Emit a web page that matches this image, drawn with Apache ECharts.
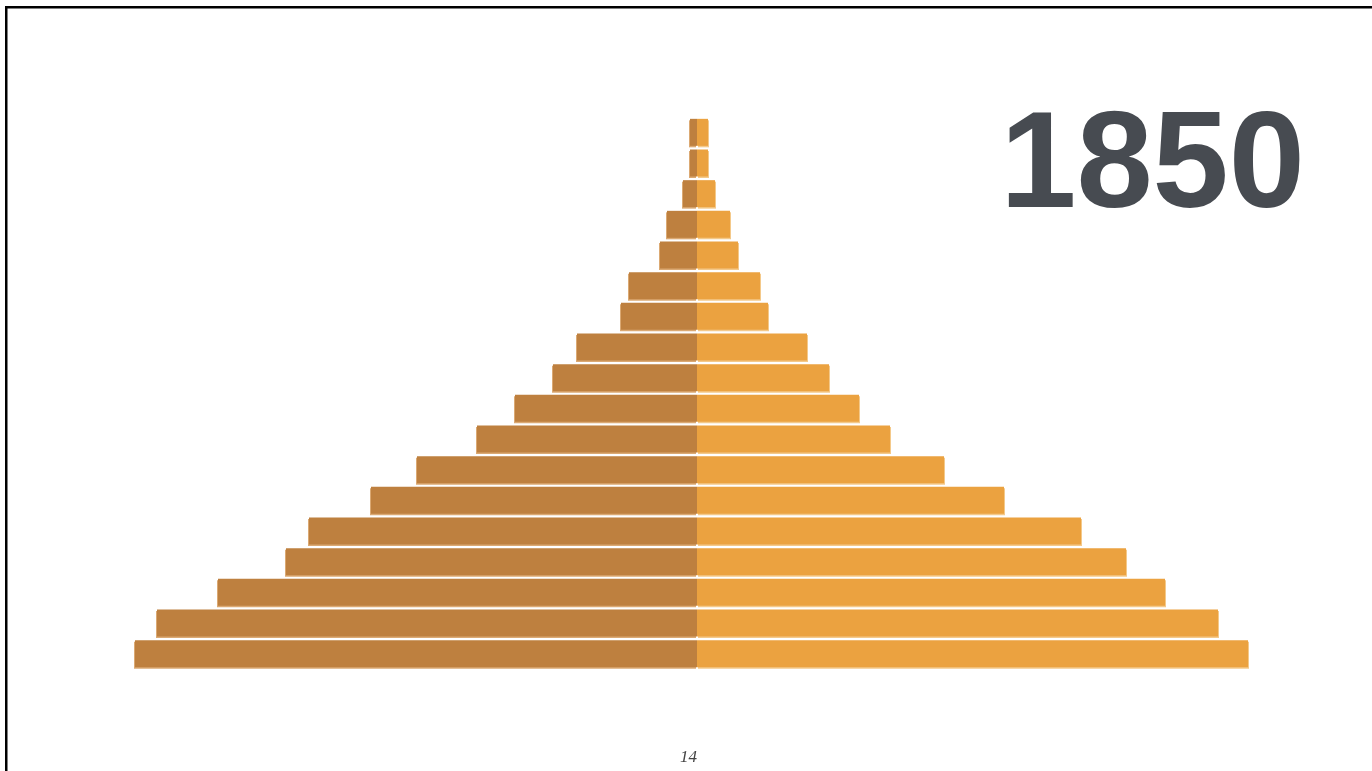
<!DOCTYPE html>
<html>
<head>
<meta charset="utf-8">
<style>
html,body{margin:0;padding:0;background:#fff;}
#chart{width:1372px;height:771px;}
</style>
<script src="https://cdn.jsdelivr.net/npm/echarts@6/dist/echarts.min.js"></script>
</head>
<body>
<div id="chart"></div>
<script>
// age groups, bottom to top
var ageGroups = ['0-4','5-9','10-14','15-19','20-24','25-29','30-34','35-39','40-44','45-49','50-54','55-59','60-64','65-69','70-74','75-79','80-84','85+'];
// values (arbitrary units), bottom to top
var male   = [562, 540, 479, 411, 388, 326, 280, 220, 182, 144, 120, 76, 68, 37, 30, 14, 7, 7];
var female = [551, 521, 468, 429, 384, 307, 247, 193, 162, 132, 110, 71, 63, 41, 33, 18, 11, 11];
var yearLabel = '1850';
var pageLabel = '14';

var chart = echarts.init(document.getElementById('chart'));
chart.setOption({
  animation: false,
  backgroundColor: '#ffffff',
  grid: {left: 97, right: 75, top: 117, height: 552, containLabel: false},
  xAxis: {type: 'value', min: -600, max: 600, show: false},
  yAxis: {type: 'category', data: ageGroups, show: false},
  series: [
    {
      name: 'Male', type: 'bar', stack: 'pop', barWidth: 27,
      data: male.map(function(v){return -v;}),
      itemStyle: {color: '#BE803F', shadowColor: 'rgba(215,160,100,0.9)', shadowOffsetY: 1.5, shadowOffsetX: -1, shadowBlur: 0}
    },
    {
      name: 'Female', type: 'bar', stack: 'pop', barWidth: 27,
      data: female,
      itemStyle: {color: '#EBA240', shadowColor: 'rgba(243,195,125,0.9)', shadowOffsetY: 1.5, shadowOffsetX: 1, shadowBlur: 0}
    }
  ],
  graphic: [
    {type: 'rect', shape: {x: 5, y: 6, width: 1367, height: 2.5}, style: {fill: '#000'}},
    {type: 'rect', shape: {x: 5, y: 6, width: 2.5, height: 765}, style: {fill: '#000'}},
    {type: 'text', right: 67, top: 101, style: {text: yearLabel, font: 'bold 137px "Liberation Sans", Arial, sans-serif', fill: '#474B51'}},
    {type: 'text', left: 680, top: 749, style: {text: pageLabel, font: 'italic 17px "Liberation Serif", serif', fill: '#444'}}
  ]
});
</script>
</body>
</html>
